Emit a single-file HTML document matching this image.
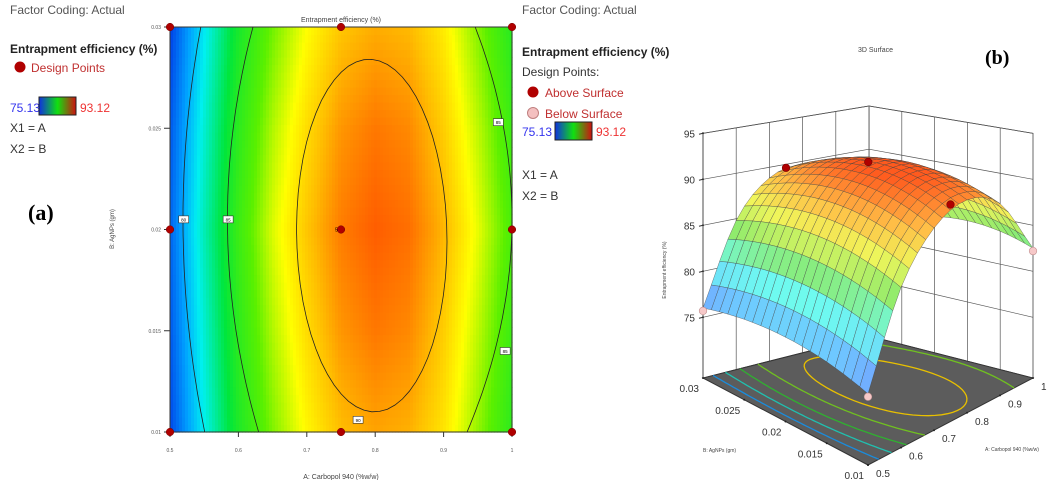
<!DOCTYPE html>
<html><head><meta charset="utf-8">
<style>
body{margin:0;background:#fff;width:1050px;height:480px;overflow:hidden;font-family:"Liberation Sans",sans-serif;}
svg{position:absolute;left:0;top:0}
</style></head>
<body>
<svg id="s" width="1050" height="480" viewBox="0 0 1050 480">
<defs>
<linearGradient id="cbar" x1="0" x2="1" y1="0" y2="0">
<stop offset="0" stop-color="#1030e0"/><stop offset="0.5" stop-color="#10e010"/><stop offset="1" stop-color="#d01010"/>
</linearGradient>
</defs>
<g font-size="12" fill="#333">
<text x="10" y="14" fill="#555">Factor Coding: Actual</text>
<text x="10" y="53" font-weight="bold" fill="#222">Entrapment efficiency (%)</text>
<circle cx="20" cy="67" r="5.5" fill="#b00000"/>
<text x="31" y="72" fill="#c03030">Design Points</text>
<text x="10" y="112" fill="#3333ee">75.13</text>
<rect x="39" y="97" width="37" height="18" fill="url(#cbar)" stroke="#222"/>
<text x="80" y="112" fill="#ee3333">93.12</text>
<text x="10" y="132">X1 = A</text>
<text x="10" y="153">X2 = B</text>
</g>
<text x="28" y="220" font-family="Liberation Serif,serif" font-weight="bold" font-size="22">(a)</text>
<g id="contour"></g>
<g font-size="12" fill="#333">
<text x="522" y="14" fill="#555">Factor Coding: Actual</text>
<text x="522" y="56" font-weight="bold" fill="#222">Entrapment efficiency (%)</text>
<text x="522" y="76">Design Points:</text>
<circle cx="533" cy="92" r="5.5" fill="#b00000"/>
<text x="545" y="97" fill="#c03030">Above Surface</text>
<circle cx="533" cy="113" r="5.5" fill="#f4c0c0" stroke="#c08080"/>
<text x="545" y="118" fill="#c03030">Below Surface</text>
<text x="522" y="136" fill="#3333ee">75.13</text>
<rect x="555" y="122" width="37" height="18" fill="url(#cbar)" stroke="#222"/>
<text x="596" y="136" fill="#ee3333">93.12</text>
<text x="522" y="179">X1 = A</text>
<text x="522" y="200">X2 = B</text>
</g>
<text x="858" y="52" font-size="7" fill="#444">3D Surface</text>
<text x="985" y="64" font-family="Liberation Serif,serif" font-weight="bold" font-size="20">(b)</text>
<g id="surf"></g>
</svg>
<script>
// ---------- contour data ----------
const gridA = [0.5,0.55,0.6,0.65,0.7,0.75,0.8,0.85,0.9,0.95,1.0];
const gridB = [0.01,0.015,0.02,0.025,0.03];
const zB010 = [74.8,79,83,85.5,87.5,89,89.6,89.3,88,85.8,83.5];
const zB015 = [75.2,79.5,83.5,86.2,88.2,89.9,90.6,90.2,88.6,86.4,84];
const zB020 = [75.5,80,84,86.8,88.8,90.5,91.2,90.8,89.2,87,84.5];
const zB025 = [75.2,79.5,83.5,86.2,88.2,89.9,90.6,90.2,88.6,86.4,84];
const zB030 = [74.6,78.8,82.8,85.3,87.3,88.8,89.4,89.1,87.8,85.6,83.3];
const xTicks = [0.5,0.6,0.7,0.8,0.9,1];
const yTicks = [0.01,0.015,0.02,0.025,0.03];
const designA = [0.5,0.75,1,0.5,0.75,1,0.5,0.75,1];
const designB = [0.01,0.01,0.01,0.02,0.02,0.02,0.03,0.03,0.03];
// ---------- surface data ----------
const surfA = [0.5,0.6,0.7,0.8,0.9,1.0];
const surfB = [0.01,0.02,0.03];
const sB010 = [75.7,85,89.6,91,89,82.5];
const sB020 = [77.3,86.8,91.6,92.7,90.6,84];
const sB030 = [76,84.8,88.8,89.6,87.6,81.2];
const zTicks = [75,80,85,90,95];
const surfATicks = [0.5,0.6,0.7,0.8,0.9,1];
const surfBTicks = [0.01,0.015,0.02,0.025,0.03];
const ptA = [0.5,0.5,0.75,0.75,0.75,1];
const ptB = [0.01,0.03,0.03,0.02,0.01,0.01];
const ptZ = [75.4,75.7,89.6,93.1,91.3,82.2];
const ptAbove = [0,0,1,1,1,0];

const NS="http://www.w3.org/2000/svg";
function mk(t,a,p){const e=document.createElementNS(NS,t);for(const k in a)e.setAttribute(k,a[k]);p.appendChild(e);return e;}
const zRows=[zB010,zB015,zB020,zB025,zB030];
function interp(xs,v,x){let i=0;while(i<xs.length-2&&x>xs[i+1])i++;const t=(x-xs[i])/(xs[i+1]-xs[i]);return v[i]+(v[i+1]-v[i])*t;}
function cr(xs,v,x){let i=0;while(i<xs.length-2&&x>xs[i+1])i++;const t=(x-xs[i])/(xs[i+1]-xs[i]);
 const p0=i>0?v[i-1]:2*v[i]-v[i+1],p1=v[i],p2=v[i+1],p3=i+2<v.length?v[i+2]:2*v[i+1]-v[i];
 return 0.5*((2*p1)+(-p0+p2)*t+(2*p0-5*p1+4*p2-p3)*t*t+(-p0+3*p1-3*p2+p3)*t*t*t);}
function lag3(xs,v,x){let s=0;for(let i=0;i<3;i++){let l=1;for(let j=0;j<3;j++)if(j!=i)l*=(x-xs[j])/(xs[i]-xs[j]);s+=l*v[i];}return s;}
function lerpC(c1,c2,t){return c1.map((v,i)=>Math.round(v+(c2[i]-v)*t));}
function cmap(z,stops){for(let i=0;i<stops.length-1;i++){if(z<=stops[i+1][0]||i==stops.length-2){let t=(z-stops[i][0])/(stops[i+1][0]-stops[i][0]);t=Math.max(0,Math.min(1,t));const c=lerpC(stops[i][1],stops[i+1][1],t);return`rgb(${c})`;}}}
const cStops=[[74.5,[0,60,230]],[77,[0,160,255]],[79,[0,240,240]],[82,[0,230,60]],[85,[90,240,0]],[87.3,[255,255,0]],[89,[255,190,0]],[91.5,[255,80,0]],[93,[240,40,0]]];

// ---------- contour plot ----------
const C=document.getElementById('contour');
const X0=170,X1=512,Y0=27,Y1=432;
const sx=a=>X0+(a-0.5)/0.5*(X1-X0);
const sy=b=>Y1-(b-0.01)/0.02*(Y1-Y0);
const NX=114,NY=54;
for(let i=0;i<NX;i++)for(let j=0;j<NY;j++){
  const a=0.5+0.5*(i+0.5)/NX,b=0.01+0.02*(j+0.5)/NY;
  const col=gridB.map((bb,k)=>interp(gridA,zRows[k],a));
  const z=interp(gridB,col,b);
  const r=mk('rect',{x:sx(0.5+0.5*i/NX),y:sy(0.01+0.02*(j+1)/NY),width:(X1-X0)/NX+0.6,height:(Y1-Y0)/NY+0.6,fill:cmap(z,cStops)},C);
  
  
}
mk('rect',{x:X0,y:Y0,width:X1-X0,height:Y1-Y0,fill:'none',stroke:'#333','stroke-width':1},C);
function cpath(fn){let d='';for(let k=0;k<=60;k++){const [a,b]=fn(k/60);d+=(k?'L':'M')+sx(a).toFixed(1)+','+sy(b).toFixed(1);}return d;}
const sq=b=>Math.pow((b-0.0205)/0.0102,2);
const cl=[
 t=>{const b=0.01+0.02*t;return[0.519+0.03*sq(b),b];},
 t=>{const b=0.01+0.02*t;return[0.584+0.043*sq(b),b];},
 t=>{const b=0.01+0.02*t;return[1.0-0.062*sq(b),b];},
 t=>{const th=2*Math.PI*t;return[0.795+0.11*Math.cos(th),0.0197+0.0087*Math.sin(th)-0.0003*Math.cos(th)];}
];
cl.forEach(f=>{const p=mk('path',{d:cpath(f),fill:'none',stroke:'#222','stroke-width':0.8},C);});
const lbls=[[0.52,0.0205,'80'],[0.585,0.0205,'85'],[0.98,0.0253,'85'],[0.99,0.0140,'85'],[0.775,0.0106,'90']];
lbls.forEach(l=>{const g=mk('g',{},C);mk('rect',{x:sx(l[0])-5,y:sy(l[1])-3.5,width:10,height:7,fill:'#fff',stroke:'#333','stroke-width':0.6},g);const t=mk('text',{x:sx(l[0]),y:sy(l[1])+2,'font-size':4.5,'text-anchor':'middle'},g);t.textContent=l[2];});
xTicks.forEach(v=>{mk('line',{x1:sx(v),x2:sx(v),y1:Y1,y2:Y1+5,stroke:'#333'},C);const t=mk('text',{x:sx(v),y:Y1+20,'font-size':5,'text-anchor':'middle',fill:'#555'},C);t.textContent=String(v);});
yTicks.forEach(v=>{mk('line',{x1:X0-6,x2:X0,y1:sy(v),y2:sy(v),stroke:'#333'},C);const t=mk('text',{x:X0-9,y:sy(v)+2,'font-size':5,'text-anchor':'end',fill:'#555'},C);t.textContent=String(v);});
designA.forEach((a,i)=>{const c=mk('circle',{cx:sx(a),cy:sy(designB[i]),r:3.8,fill:'#b00000',stroke:'#700','stroke-width':0.5},C);});
{const t=mk('text',{x:sx(0.75)-6,y:sy(0.02)+2,'font-size':5},C);t.textContent='5';}
{const t=mk('text',{x:341,y:22,'font-size':7,'text-anchor':'middle',fill:'#444'},C);t.textContent='Entrapment efficiency (%)';}
{const t=mk('text',{x:341,y:479,'font-size':7,'text-anchor':'middle',fill:'#444'},C);t.textContent='A: Carbopol 940 (%w/w)';}
{const t=mk('text',{x:0,y:0,'font-size':6,'text-anchor':'middle',fill:'#444',transform:'translate(114,229) rotate(-90)'},C);t.textContent='B: AgNPs (gm)';}

// ---------- 3D surface ----------
const S=document.getElementById('surf');
const FR=[868,465],RT=[1033,378],LF=[703,378],BK=[869,336];
const ZF=68.4,ZS=9.2;
function P(a,b,z){const u=(a-0.5)/0.5,v=(b-0.01)/0.02;
 const x=FR[0]*(1-u)*(1-v)+RT[0]*u*(1-v)+LF[0]*(1-u)*v+BK[0]*u*v;
 const y=FR[1]*(1-u)*(1-v)+RT[1]*u*(1-v)+LF[1]*(1-u)*v+BK[1]*u*v;
 const sc=ZS*(1+0.06*((1-u)+(1-v)-1));
 return[x,y-(z-ZF)*sc];}
const pts=a=>a.map(p=>p[0].toFixed(1)+','+p[1].toFixed(1)).join(' ');
mk('polygon',{points:pts([P(1,0.01,ZF),P(1,0.03,ZF),P(1,0.03,95),P(1,0.01,95)]),fill:'#fff',stroke:'#444','stroke-width':0.8},S);
mk('polygon',{points:pts([P(0.5,0.03,ZF),P(1,0.03,ZF),P(1,0.03,95),P(0.5,0.03,95)]),fill:'#fff',stroke:'#444','stroke-width':0.8},S);
zTicks.forEach(z=>{
  mk('polyline',{points:pts([P(0.5,0.03,z),P(1,0.03,z),P(1,0.01,z)]),fill:'none',stroke:'#555','stroke-width':0.7},S);
  const p=P(0.5,0.03,z);mk('line',{x1:p[0]-4,x2:p[0],y1:p[1]+1,y2:p[1],stroke:'#333'},S);
  mk('circle',{cx:p[0],cy:p[1],r:1,fill:'#222'},S);
  const t=mk('text',{x:p[0]-8,y:p[1]+4,'font-size':10,'text-anchor':'end',fill:'#333'},S);t.textContent=String(z);
});
[0.6,0.7,0.8,0.9].forEach(a=>{const p=P(a,0.03,ZF),q=P(a,0.03,95);mk('line',{x1:p[0],y1:p[1],x2:q[0],y2:q[1],stroke:'#555','stroke-width':0.7},S);});
[0.014,0.018,0.022,0.026].forEach(b=>{const p=P(1,b,ZF),q=P(1,b,95);mk('line',{x1:p[0],y1:p[1],x2:q[0],y2:q[1],stroke:'#555','stroke-width':0.7},S);});
{const p=P(0.5,0.03,ZF),q=P(0.5,0.03,95);mk('line',{x1:p[0],y1:p[1],x2:q[0],y2:q[1],stroke:'#444','stroke-width':0.8},S);}
const fl=mk('polygon',{points:pts([P(0.5,0.01,ZF),P(1,0.01,ZF),P(1,0.03,ZF),P(0.5,0.03,ZF)]),fill:'#5c5c5c',stroke:'#333'},S);

function fpath(fn,col){let d='';for(let k=0;k<=60;k++){const[a,b]=fn(k/60);if(a<0.5||a>1)continue;const p=P(a,b,ZF);d+=(d?'L':'M')+p[0].toFixed(1)+','+p[1].toFixed(1);}const e=mk('path',{d:d,fill:'none',stroke:col,'stroke-width':1.3},S);}
fpath(cl[3],'#e8c000');
fpath(t=>{const b=0.01+0.02*t;return[0.52+0.012*sq(b),b];},'#1a8cdc');
fpath(t=>{const b=0.01+0.02*t;return[0.55+0.02*sq(b),b];},'#20c0b0');
fpath(t=>{const b=0.01+0.02*t;return[0.585+0.03*sq(b),b];},'#30b030');
fpath(t=>{const b=0.01+0.02*t;return[0.635+0.035*sq(b),b];},'#70c020');
fpath(t=>{const b=0.01+0.02*t;return[0.985-0.04*sq(b),b];},'#70c020');
const sRows=[sB010,sB020,sB030];
const sStops=[[75,[120,120,255]],[78,[110,200,255]],[81,[110,250,240]],[84,[140,235,110]],[87,[240,245,90]],[89.5,[255,190,70]],[92.5,[255,90,30]]];
function sz(a,b){const col=sRows.map(r=>cr(surfA,r,a));return lag3(surfB,col,b);}
const N=20,cells=[];
for(let i=0;i<N;i++)for(let j=0;j<N;j++)cells.push([i,j]);
cells.sort((p,q)=>(q[0]+q[1])-(p[0]+p[1]));
cells.forEach(([i,j])=>{
  const a0=0.5+0.5*i/N,a1=0.5+0.5*(i+1)/N,b0=0.01+0.02*j/N,b1=0.01+0.02*(j+1)/N;
  const zc=sz((a0+a1)/2,(b0+b1)/2);
  const p=mk('polygon',{points:pts([P(a0,b0,sz(a0,b0)),P(a1,b0,sz(a1,b0)),P(a1,b1,sz(a1,b1)),P(a0,b1,sz(a0,b1))]),fill:cmap(zc,sStops),stroke:'#444','stroke-width':0.35,'stroke-linejoin':'round'},S);
  
  
});
ptA.forEach((a,i)=>{const p=P(a,ptB[i],ptZ[i]);const c=mk('circle',{cx:p[0],cy:p[1],r:3.8,fill:ptAbove[i]?'#b00000':'#f6c8c8',stroke:ptAbove[i]?'#700':'#c09090','stroke-width':0.6},S);});
surfATicks.forEach(a=>{const p=P(a,0.01,ZF);mk('circle',{cx:p[0],cy:p[1],r:1,fill:'#222'},S);const t=mk('text',{x:p[0]+8,y:p[1]+12,'font-size':10,fill:'#333'},S);t.textContent=String(a);});
surfBTicks.forEach(b=>{const p=P(0.5,b,ZF);mk('circle',{cx:p[0],cy:p[1],r:1,fill:'#222'},S);const t=mk('text',{x:p[0]-4,y:p[1]+14,'font-size':10,'text-anchor':'end',fill:'#333'},S);t.textContent=String(b);});
{const t=mk('text',{x:985,y:451,'font-size':5,fill:'#444'},S);t.textContent='A: Carbopol 940 (%w/w)';}
{const t=mk('text',{x:703,y:452,'font-size':5,fill:'#444'},S);t.textContent='B: AgNPs (gm)';}
{const t=mk('text',{x:0,y:0,'font-size':5,'text-anchor':'middle',fill:'#444',transform:'translate(666,270) rotate(-90)'},S);t.textContent='Entrapment efficiency (%)';}
</script>
</body></html>
